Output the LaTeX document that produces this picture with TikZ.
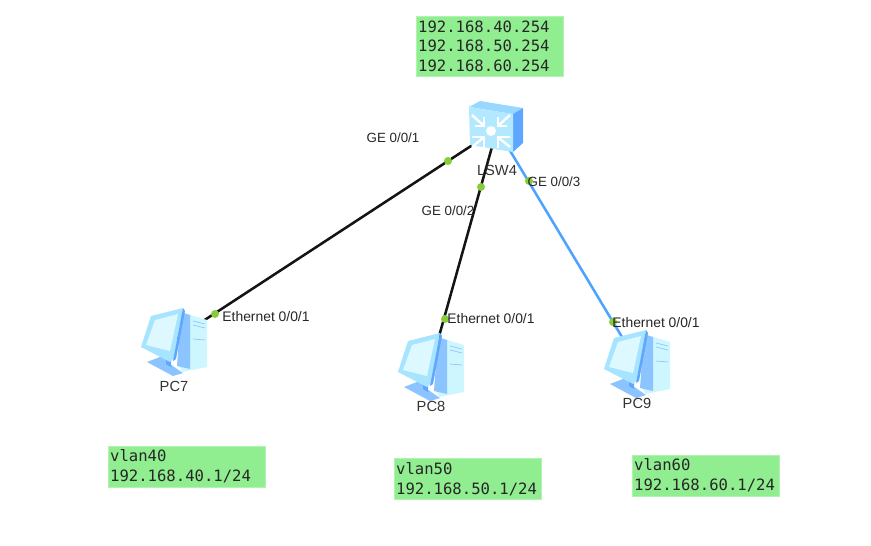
\documentclass[tikz,border=0pt]{standalone}
\usepackage{fontspec}
\setmainfont{Liberation Sans}
\newfontfamily\monofam{DejaVu Sans Mono}
\definecolor{notegreen}{HTML}{90EE90}
\definecolor{dotgreen}{HTML}{88CC3C}
\definecolor{linkblue}{HTML}{4DA3FF}
\definecolor{linkblack}{HTML}{141414}
\definecolor{skin}{HTML}{CDF6FF}
\definecolor{skinb}{HTML}{A6E4FF}
\definecolor{midblue}{HTML}{8CC4FF}
\definecolor{deepblue}{HTML}{5FA6FF}
\definecolor{screenc}{HTML}{DDF8FF}
\tikzset{
  x=0.75pt,y=-0.75pt,
  anchorpt/.style={inner sep=0pt,minimum size=1pt},
  linkk/.style={line width=1.9pt,linkblack},
  linkb/.style={line width=1.9pt,linkblue},
  port/.style={circle,fill=dotgreen,inner sep=0pt,minimum size=6pt},
  lab/.style={font=\fontsize{10}{12}\selectfont,text=black!85,inner sep=0pt},
  ethlab/.style={font=\fontsize{10.4}{12}\selectfont,text=black!85,inner sep=0pt},
  devlab/.style={font=\fontsize{11}{13}\selectfont,text=black!80,inner sep=0pt},
  note/.style={fill=notegreen,draw=notegreen!70!white,line width=0.4pt,inner xsep=1.4pt,inner ysep=0pt,align=left,anchor=north west,font=\monofam\fontsize{11.7}{14.8}\selectfont,text=black!85},
  pcicon/.pic={
    % tower
    \fill[skin] (13,-26) -- (33,-20) -- (33,27) -- (8,32) -- (4,22) -- cycle;
    \fill[midblue] (7,-28) -- (16,-25) -- (16,29) -- (3,26) -- cycle;
    \draw[deepblue!70,line width=0.5pt] (19,-19) -- (31,-16) (19,-15) -- (31,-12) (19,-1) -- (31,0);
    % stand
    \fill[midblue] (-27,22) -- (-9,15) -- (-4,17) -- (-4,24) -- (9,33) -- (-1,36) -- cycle;
    \fill[deepblue] (-8,15) -- (-3,15) -- (-3,27) -- (-8,24) -- cycle;
    % monitor
    \fill[skinb] (-33,7) -- (-23,-24) -- (9,-32) -- (0,18) -- (-4,22) -- cycle;
    \fill[deepblue] (9,-32) -- (11,-29) -- (2,19) -- (-1,21) -- cycle;
    \fill[screenc] (-28,5) -- (-19,-20) -- (4,-26) -- (-4,11) -- cycle;
  },
  swicon/.pic={
    \fill[skinb!80!deepblue] (-28,-22) -- (-17,-28) -- (26,-21) -- (16,-15) -- cycle;
    \fill[deepblue] (16,-15) -- (26,-21) -- (26,14) -- (16,23) -- cycle;
    \fill[skinb!70!skin] (-28,-22) -- (16,-15) -- (16,23) -- (-27,16) -- cycle;
    \begin{scope}[shift={(-6,2)}]
      % upper pair: heads pointing to the centre
      \foreach \s in {-1,1}{
        \draw[white,line width=1.8pt] (\s*8,-6) -- (\s*19,-16);
        \draw[white,line width=1.6pt] (\s*16,-5) -- (\s*7,-5) -- (\s*7,-14);
      }
      % lower pair: heads pointing outwards from the face
      \foreach \s in {-1,1}{
        \draw[white,line width=1.8pt] (\s*8,7) -- (\s*19,16);
        \draw[white,line width=1.6pt] (\s*19,6) -- (\s*7,6) -- (\s*7,17);
      }
      \fill[white] (0,0) circle[radius=5];
    \end{scope}
  }
}
\begin{document}
\begin{tikzpicture}
\useasboundingbox (0,0) rectangle (871,546);
% anchor nodes of the devices
\node[anchorpt] (sw) at (497,129) {};
\node[anchorpt] (pc7) at (174,340) {};
\node[anchorpt] (pc8) at (431,365) {};
\node[anchorpt] (pc9) at (637,362) {};
% links
\draw[linkk] (sw) -- (pc7);
\draw[linkk] (sw) -- (pc8);
\draw[linkb] (sw) -- (pc9);
% icons
\pic at (sw) {swicon};
\pic at (pc7) {pcicon};
\pic at (pc8) {pcicon};
\pic at (pc9) {pcicon};
% ports
\node[port] (p1) at (448,161) {};
\node[port] (p2) at (481,187) {};
\node[port] (p3) at (529,181) {};
\node[port] (p4) at (215,314) {};
\node[port] (p5) at (445,319) {};
\node[port] (p6) at (613,322) {};
% labels
\node[lab] (l1) at (393,138) {GE 0/0/1};
\node[lab] (l2) at (448,211) {GE 0/0/2};
\node[lab] (l3) at (554,182) {GE 0/0/3};
\node[ethlab] (l4) at (266,317) {Ethernet 0/0/1};
\node[ethlab] (l5) at (491,319) {Ethernet 0/0/1};
\node[ethlab] (l6) at (656,323) {Ethernet 0/0/1};
\node[devlab] (n0) at (497,170) {LSW4};
\node[devlab] (n7) at (174,386) {PC7};
\node[devlab] (n8) at (431,406) {PC8};
\node[devlab] (n9) at (637,403) {PC9};
% notes
\node[note,text width=107.2pt,minimum height=45pt] (t0) at (416,16) {192.168.40.254\\192.168.50.254\\192.168.60.254};
\node[note,text width=115pt,minimum height=30.5pt] (t1) at (108,446) {vlan40\\192.168.40.1/24};
\node[note,text width=107.2pt,minimum height=31pt] (t2) at (394,458) {vlan50\\192.168.50.1/24};
\node[note,text width=107.2pt,minimum height=30.5pt] (t3) at (632,455) {vlan60\\192.168.60.1/24};
\end{tikzpicture}
\end{document}
